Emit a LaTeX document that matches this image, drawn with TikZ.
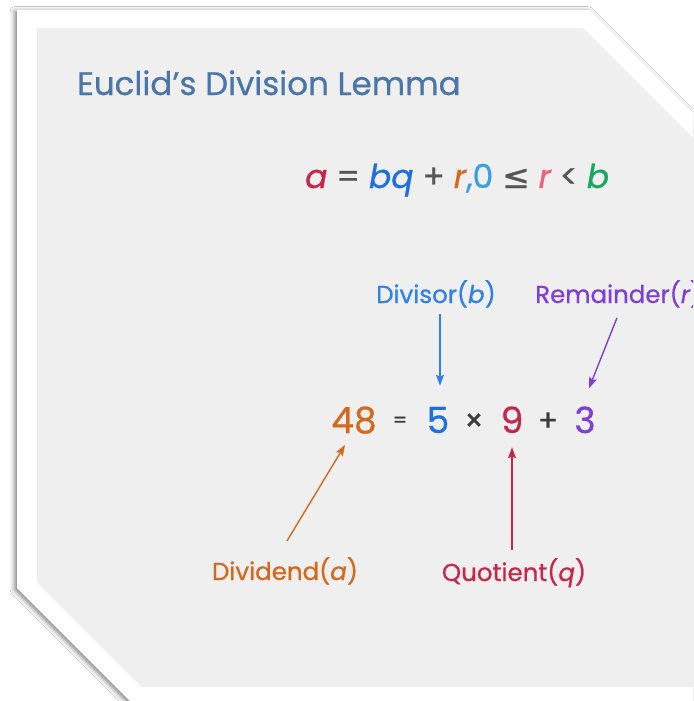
\documentclass[tikz,border=0pt]{standalone}
\usepackage{fontspec}
\setmainfont{Poppins}[FakeBold=0.7]
\newfontfamily\symfont{DejaVu Sans}[FakeBold=0.7]
\usetikzlibrary{arrows.meta,calc,shadows.blur}
\definecolor{cardgrey}{HTML}{EFEFEF}
\definecolor{titleblue}{HTML}{4A76A8}
\definecolor{ccrimson}{HTML}{C8254B}
\definecolor{cblue}{HTML}{1F6FE0}
\definecolor{corange}{HTML}{D2691E}
\definecolor{clightblue}{HTML}{3AA0E0}
\definecolor{cpink}{HTML}{F0607A}
\definecolor{cgreen}{HTML}{17A862}
\definecolor{cop}{HTML}{555555}
\definecolor{cdivisor}{HTML}{2F80E8}
\definecolor{cpurple}{HTML}{7E3FD6}
\definecolor{cdark}{HTML}{3C3C3C}
\tikzset{
  lbl/.style={inner sep=0pt, font=\fontsize{24.5}{28}\selectfont},
  num/.style={inner sep=0pt, anchor=base, font=\fontsize{36}{40}\selectfont},
  arr/.style={line width=1.4pt, -{Stealth[length=11pt,width=8pt,inset=2pt]}},
}
\begin{document}
\begin{tikzpicture}[x=1pt,y=-1pt]
\useasboundingbox (0,0) rectangle (693,701);
\clip (0,0) rectangle (693,701);
\fill[white] (0,0) rectangle (693,701);
% card
\path[fill=white, blur shadow={shadow xshift=-2pt, shadow yshift=-1.5pt, shadow blur radius=5pt, shadow opacity=55}]
  (17,10) -- (590,10) -- (720,140) -- (720,720) -- (149,720) -- (17,588) -- cycle;
\fill[cardgrey] (37,28) -- (583,28) -- (720,165) -- (720,687) -- (142,687) -- (37,582) -- cycle;
% title
\node[inner sep=0pt, anchor=base west, text=titleblue, font=\fontsize{32.5}{36}\selectfont] (title) at (77,95) {Euclid's Division Lemma};
% lemma
\node[inner sep=0pt, anchor=base west, font=\fontsize{33}{36}\selectfont] (lemma) at (305,188)
  {\textcolor{ccrimson}{\itshape a} \textcolor{cop}{=} \textcolor{cblue}{\itshape bq} \textcolor{cop}{+} \textcolor{corange}{\itshape r}\textcolor{clightblue}{,0} \textcolor{cop}{\symfont ≤} \textcolor{cpink}{\itshape r} \textcolor{cop}{<} \textcolor{cgreen}{\itshape b}};
% equation
\node[num, text=corange] (n48) at (354,433) {48};
\node[num, text=cdark, font=\fontsize{20}{24}\selectfont] (eq) at (400,427) {=};
\node[num, text=cblue] (n5) at (438,433) {5};
\node[num, text=cdark, font=\fontsize{30}{34}\selectfont] (times) at (474,431) {×};
\node[num, text=ccrimson] (n9) at (512,433) {9};
\node[num, text=cdark, font=\fontsize{30}{34}\selectfont] (plus) at (548,431) {+};
\node[num, text=cpurple] (n3) at (585,433) {3};
% labels
\node[lbl, anchor=base, text=cdivisor] (divisor) at (436,303) {Divisor({\itshape b})};
\node[lbl, anchor=base west, text=cpurple] (remainder) at (535,303) {Remainder({\itshape r})};
\node[lbl, anchor=base, text=corange] (dividend) at (285,580) {Dividend({\itshape a})};
\node[lbl, anchor=base, text=ccrimson] (quotient) at (514,581) {Quotient({\itshape q})};
% arrows
\draw[arr, cdivisor] ($(divisor.south)+(4,6)$) -- ($(n5.north)+(2,-21)$);
\draw[arr, cpurple] ($(remainder.south west)+(82,10)$) -- ($(n3.north)+(4,-18)$);
\draw[arr, corange] ($(dividend.north)+(2,-16)$) -- ($(n48.south)+(-9,11)$);
\draw[arr, ccrimson] ($(quotient.north)+(-2,-8)$) -- ($(n9.south)+(0,14)$);
\end{tikzpicture}
\end{document}
